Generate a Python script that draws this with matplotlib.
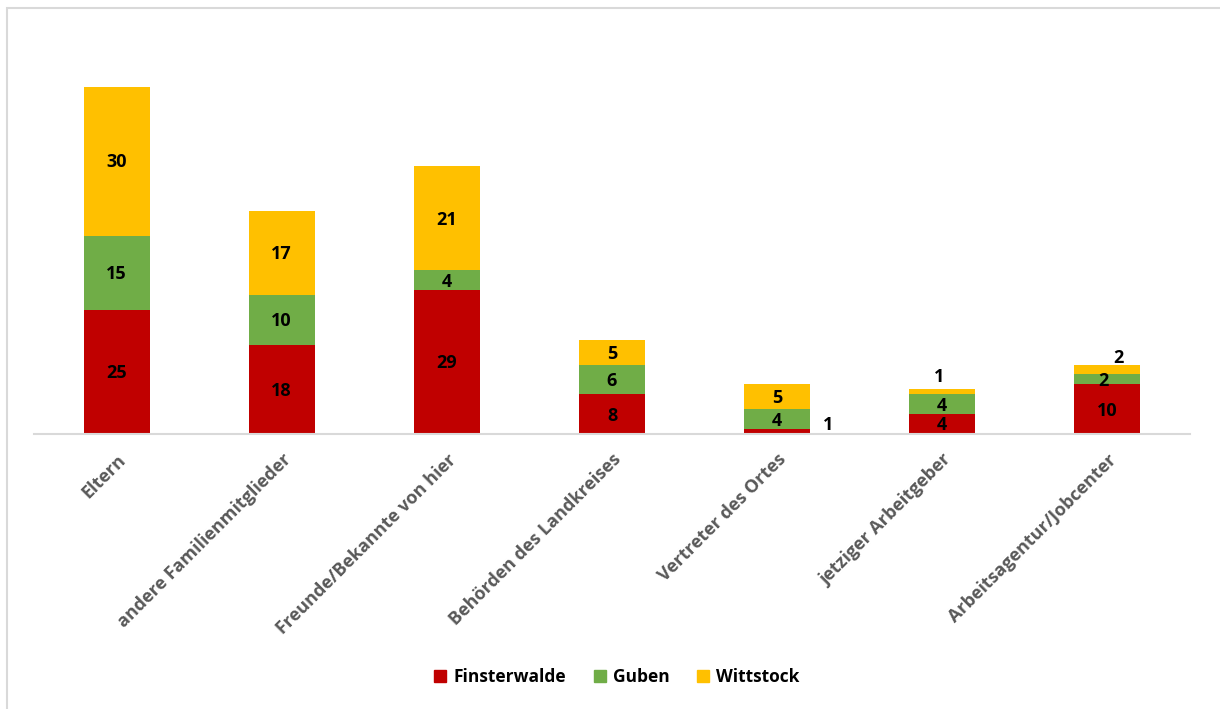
import matplotlib.pyplot as plt
import matplotlib.patches as mpatches
import numpy as np

plt.rcParams['font.family'] = ['Open Sans', 'DejaVu Sans']

categories = ['Eltern', 'andere Familienmitglieder', 'Freunde/Bekannte von hier',
              'Behörden des Landkreises', 'Vertreter des Ortes',
              'jetziger Arbeitgeber', 'Arbeitsagentur/Jobcenter']
finsterwalde = [25, 18, 29, 8, 1, 4, 10]
guben = [15, 10, 4, 6, 4, 4, 2]
wittstock = [30, 17, 21, 5, 5, 1, 2]

series = [('Finsterwalde', finsterwalde, '#C00000'),
          ('Guben', guben, '#70AD47'),
          ('Wittstock', wittstock, '#FFC000')]

# small segments get their label nudged out of the way (points)
nudge = {(0, 4): (37, 6), (2, 5): (-2, 12), (2, 6): (8, 9), (1, 6): (-3, 0)}

fig = plt.figure(figsize=(12.2, 7.09), dpi=100)
fig.patches.append(mpatches.Rectangle((7 / 1220, -0.1), 1.2, 1 - 8 / 709 + 0.1,
                                      transform=fig.transFigure, fill=False,
                                      edgecolor='#D9D9D9', linewidth=1.5))
ax = fig.add_axes([34 / 1220, 1 - 434 / 709, 1156 / 1220, 397 / 709])

x = np.arange(len(categories))
bottom = np.zeros(len(categories))
for si, (name, vals, color) in enumerate(series):
    vals = np.array(vals)
    ax.bar(x, vals, 0.4, bottom=bottom, color=color, label=name, zorder=2)
    for i, v in enumerate(vals):
        dx, dy = nudge.get((si, i), (0, 0))
        ax.annotate(str(v), (x[i], bottom[i] + v / 2), xytext=(dx, dy - 1),
                    textcoords='offset points', ha='center', va='center',
                    fontsize=13, fontweight='bold', color='black', zorder=3)
    bottom += vals

ax.set_xlim(-0.5, len(categories) - 0.5)
ax.set_ylim(0, 80)
ax.set_yticks([])
for s in ['top', 'right', 'left']:
    ax.spines[s].set_visible(False)
ax.spines['bottom'].set_color('#D9D9D9')
ax.spines['bottom'].set_linewidth(1.5)
ax.set_xticks(x)
ax.set_xticklabels(categories, rotation=45, ha='right', rotation_mode='anchor',
                   fontsize=13, fontweight='bold', color='#595959')
ax.tick_params(axis='x', length=0, pad=12)

handles = [mpatches.Patch(color=c, label=n) for n, _, c in series]
fig.legend(handles=handles, loc='center', bbox_to_anchor=(617 / 1220, 1 - 677 / 709),
           ncol=3, frameon=False, handlelength=0.7, handleheight=0.7,
           handletextpad=0.4, columnspacing=1.6,
           prop={'size': 12.5, 'weight': 'bold'})

fig.savefig('out.png', dpi=100)
